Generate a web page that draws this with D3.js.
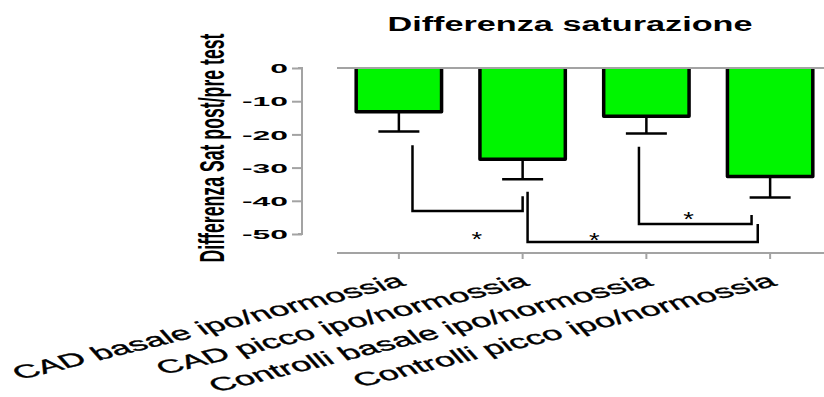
<!DOCTYPE html>
<html>
<head>
<meta charset="utf-8">
<script src="https://cdn.jsdelivr.net/npm/d3@7"></script>
<style>
  html, body { margin: 0; padding: 0; background: #fff; }
  svg { display: block; }
  text { font-family: "Liberation Sans", Arial, sans-serif; fill: #000; }
</style>
</head>
<body>
<svg id="chart" width="824" height="397"></svg>
<script>
// Group labels, means and error (SEM) of the saturation difference
const categories = [
  "CAD basale ipo/normossia",
  "CAD picco ipo/normossia",
  "Controlli basale ipo/normossia",
  "Controlli picco ipo/normossia"
];
const means = [-13.2, -27.5, -14.5, -32.7];
const errors = [5.9, 6.0, 5.2, 6.3];
const yTicks = [0, -10, -20, -30, -40, -50];

// Significance brackets: legs at fractional group positions, levels in data units
const bracketFrom = [0.11, 1.04, 1.94];
const bracketTo = [1.0, 2.9, 2.85];
const bracketFromTop = [-23.3, -37.3, -23.7];
const bracketToTop = [-38.6, -47.0, -44.3];
const bracketLevel = [-43.1, -52.4, -47.0];
const starAt = [0.63, 1.58, 2.34];
const starValue = [-49.8, -50.2, -44.0];

const titleText = "Differenza saturazione";
const yTitleText = "Differenza Sat post/pre test";

const svg = d3.select("#chart");

const x = d3.scaleBand()
  .domain(categories)
  .range([337, 832])
  .paddingInner(0.31)
  .paddingOuter(0.155);

const y = d3.scaleLinear().domain([0, -50]).range([68, 234]);

// fractional group index -> horizontal pixel (through band centres)
const xi = d3.scaleLinear()
  .domain([0, categories.length - 1])
  .range([x(categories[0]) + x.bandwidth() / 2,
          x(categories[categories.length - 1]) + x.bandwidth() / 2]);

const axisGrey = "#a3a3a3";

// Title
svg.append("text")
  .attr("x", 570).attr("y", 31)
  .attr("text-anchor", "middle")
  .attr("font-size", 20).attr("font-weight", "bold")
  .attr("textLength", 365).attr("lengthAdjust", "spacingAndGlyphs")
  .text(titleText);

// Y axis title (rotated, tall narrow lettering)
svg.append("text")
  .attr("transform", "translate(224,148) rotate(-90) scale(1,1.75)")
  .attr("text-anchor", "middle")
  .attr("font-size", 20).attr("font-weight", "bold")
  .attr("textLength", 229).attr("lengthAdjust", "spacingAndGlyphs")
  .text(yTitleText);

// Y axis
const yAxis = d3.axisLeft(y).tickValues(yTicks).tickSize(10).tickFormat(d3.format("d"));
const gy = svg.append("g").attr("transform", "translate(302,0)").call(yAxis);
gy.select(".domain").attr("stroke", axisGrey).attr("stroke-width", 2)
  .attr("d", `M-4,${y(0)}H0V${y(-50)}H-4`);
gy.selectAll(".tick line").attr("stroke", axisGrey).attr("stroke-width", 2);
gy.selectAll(".tick text").remove();
gy.selectAll(".tick").append("text")
  .attr("transform", "translate(-14,0) scale(2.45,1)")
  .attr("text-anchor", "end")
  .attr("dy", "0.36em")
  .attr("font-size", 13).attr("font-weight", "bold")
  .text(d => d3.format("d")(d).replace("\u2212", "-"));

// X axis at the bottom
const xAxis = d3.axisBottom(x).tickSize(6).tickFormat("");
const gx = svg.append("g").attr("transform", "translate(0,253)").call(xAxis);
gx.select(".domain").attr("stroke", axisGrey).attr("stroke-width", 2)
  .attr("d", `M${x.range()[0]},0H${x.range()[1]}`);
gx.selectAll(".tick line").attr("stroke", axisGrey).attr("stroke-width", 2);

// Category labels, slanted
svg.append("g").selectAll("text")
  .data(categories)
  .join("text")
  .attr("transform", d => `translate(${x(d) + x.bandwidth() / 2 + 8},285) scale(1.9,1) rotate(-25)`)
  .attr("text-anchor", "end")
  .attr("font-size", 19)
  .attr("stroke", "#000").attr("stroke-width", 0.35)
  .text(d => d);

// Bars (open at the zero line)
svg.append("g").selectAll("path")
  .data(means)
  .join("path")
  .attr("d", (d, i) => {
    const x0 = x(categories[i]), x1 = x0 + x.bandwidth();
    return `M${x0},${y(0)}V${y(d)}H${x1}V${y(0)}`;
  })
  .attr("fill", "#00f500")
  .attr("stroke", "#000")
  .attr("stroke-width", 3.5)
  .attr("stroke-linejoin", "round");

// Zero line
svg.append("line")
  .attr("x1", x.range()[0]).attr("x2", x.range()[1])
  .attr("y1", y(0)).attr("y2", y(0))
  .attr("stroke", axisGrey).attr("stroke-width", 2);

// Error bars (downward only)
const eb = svg.append("g").attr("stroke", "#000").attr("stroke-width", 2.5);
means.forEach((m, i) => {
  const cx = x(categories[i]) + x.bandwidth() / 2;
  eb.append("line").attr("x1", cx).attr("x2", cx).attr("y1", y(m)).attr("y2", y(m - errors[i]));
  eb.append("line").attr("x1", cx - 20.5).attr("x2", cx + 20.5)
    .attr("y1", y(m - errors[i])).attr("y2", y(m - errors[i]));
});

// Significance brackets
const br = svg.append("g").attr("fill", "none").attr("stroke", "#000").attr("stroke-width", 2.5);
bracketFrom.forEach((f, i) => {
  br.append("path").attr("d",
    `M${xi(f)},${y(bracketFromTop[i])}V${y(bracketLevel[i])}H${xi(bracketTo[i])}V${y(bracketToTop[i])}`);
});

// Stars
svg.append("g").selectAll("text")
  .data(starAt)
  .join("text")
  .attr("transform", (d, i) => `translate(${xi(d)},${y(starValue[i])}) scale(1.3,1)`)
  .attr("dy", "0.58em")
  .attr("text-anchor", "middle")
  .attr("font-size", 21)
  .text("*");
</script>
</body>
</html>
